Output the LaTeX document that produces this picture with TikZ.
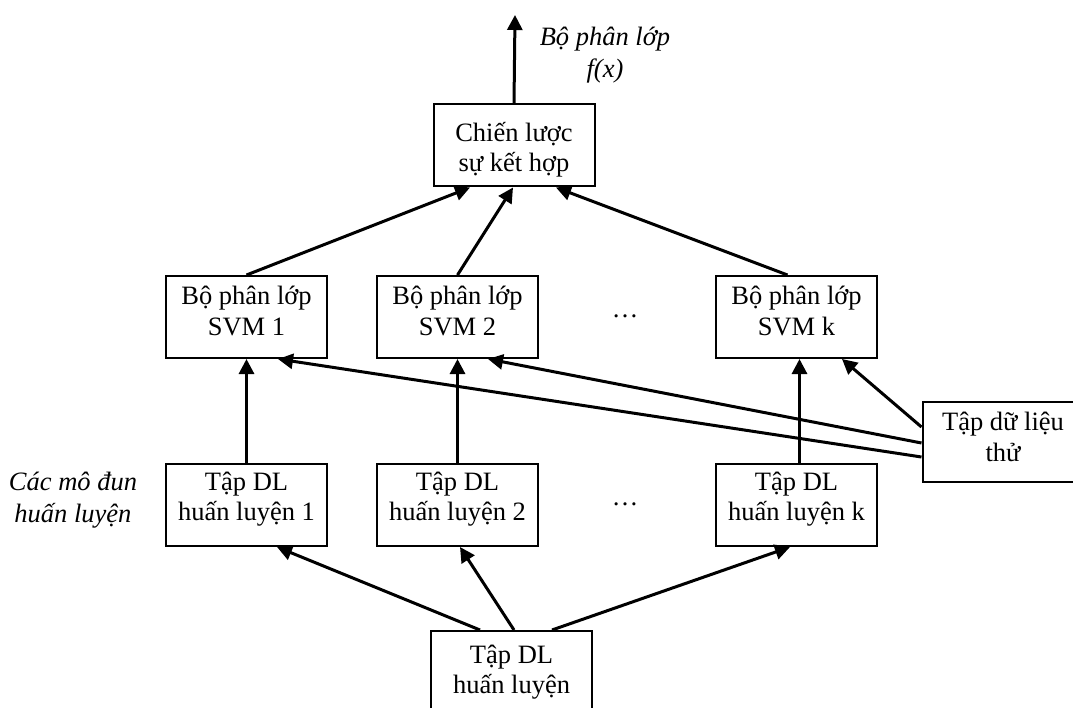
\documentclass[tikz,border=0pt]{standalone}
\usepackage{fontspec}
\setmainfont{Liberation Serif}
\usetikzlibrary{arrows.meta,calc}

\tikzset{
  box/.style={draw, line width=2pt, minimum width=161pt, minimum height=82pt, inner sep=0pt},
  txt/.style={align=center, inner sep=0pt, font=\fontsize{26.5}{30.5}\selectfont},
  itxt/.style={txt, font=\fontsize{26.5}{32.5}\selectfont\itshape},
  arr/.style={line width=3pt, -{Triangle[length=15pt,width=15pt]}},
}

\begin{document}
\begin{tikzpicture}[x=1pt,y=-1pt]
  \useasboundingbox (0,0) rectangle (1073,708);
  \clip (0,0) rectangle (1073,708);

  % boxes
  \node[box] (comb) at (514,145.5) {};
  \node[box] (svm1) at (246.5,317) {};
  \node[box] (svm2) at (457.5,317) {};
  \node[box] (svmk) at (796.5,317) {};
  \node[box] (tr1)  at (246.5,505) {};
  \node[box] (tr2)  at (457.5,505) {};
  \node[box] (trk)  at (796.5,505) {};
  \node[box, minimum height=80pt] (test) at (1003,442) {};
  \node[box] (base) at (511.5,672) {};

  % box texts
  \node[txt] (combt) at ([yshift=-4pt]comb.center) {Chiến lược\\sự kết hợp};
  \node[txt] (svm1t) at ([yshift=6pt]svm1.center) {Bộ phân lớp\\SVM 1};
  \node[txt] (svm2t) at ([yshift=6pt]svm2.center) {Bộ phân lớp\\SVM 2};
  \node[txt] (svmkt) at ([yshift=6pt]svmk.center) {Bộ phân lớp\\SVM k};
  \node[txt] (tr1t) at ([yshift=6pt]tr1.center) {Tập DL\\huấn luyện 1};
  \node[txt] (tr2t) at ([yshift=6pt]tr2.center) {Tập DL\\huấn luyện 2};
  \node[txt] (trkt) at ([yshift=6pt]trk.center) {Tập DL\\huấn luyện k};
  \node[txt] (testt) at ([yshift=5pt]test.center) {Tập dữ liệu\\thử};
  \node[txt] (baset) at (base.center) {Tập DL\\huấn luyện};

  % free labels
  \node[itxt] (outl) at (605,55) {Bộ phân lớp\\f(x)};
  \node[itxt] (modl) at (73,500) {Các mô đun\\huấn luyện};
  \node[txt, anchor=base] (dots1) at (625,318) {…};
  \node[txt, anchor=base] (dots2) at (625,505) {…};

  % output of the combination
  \coordinate (out) at (515,15);
  \draw[arr] (comb.north) -- (out);

  % classifiers into the combination
  \draw[arr] (svm1.north) -- ([xshift=-44pt]comb.south);
  \draw[arr] (svm2.north) -- ([xshift=-1pt]comb.south);
  \draw[arr] ([xshift=-9pt]svmk.north) -- ([xshift=42pt]comb.south);

  % training sets into classifiers
  \draw[arr] (tr1.north) -- (svm1.south);
  \draw[arr] (tr2.north) -- (svm2.south);
  \draw[arr] ([xshift=3pt]trk.north) -- ([xshift=3pt]svmk.south);

  % test set into classifiers
  \draw[arr] ([yshift=15pt]test.west) -- ([xshift=45.5pt]svmk.south);
  \draw[arr] ([yshift=-1pt]test.west) -- ([xshift=30.5pt]svm2.south);
  \draw[arr] ([yshift=-15pt]test.west) -- ([xshift=31.5pt]svm1.south);

  % whole training set split into modules
  \draw[arr] ([xshift=-31.5pt]base.north) -- ([xshift=30.5pt]tr1.south);
  \draw[arr] ([xshift=2.5pt]base.north) -- ([xshift=2.5pt]tr2.south);
  \draw[arr] ([xshift=40.5pt]base.north) -- ([xshift=-6.5pt]trk.south);
\end{tikzpicture}
\end{document}
